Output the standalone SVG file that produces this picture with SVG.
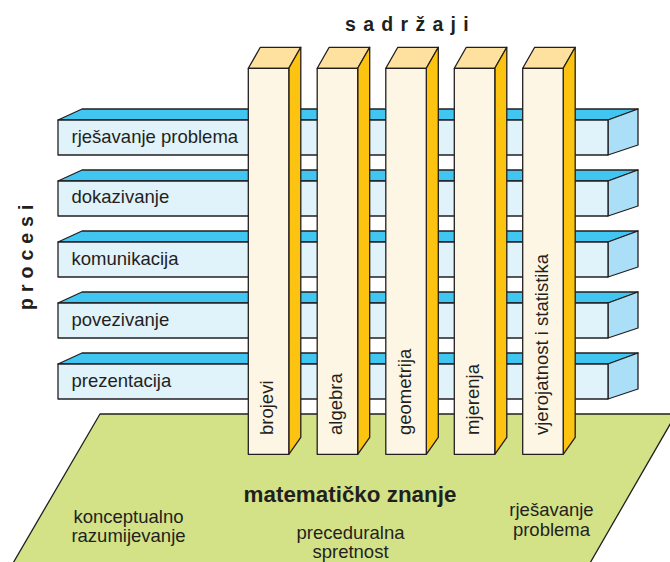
<svg xmlns="http://www.w3.org/2000/svg" width="670" height="562" viewBox="0 0 670 562">
  <style>
    .ln { stroke: #231f20; stroke-width: 1.3; stroke-linejoin: round; }
    .bar-front { fill: #e0f2fa; }
    .bar-top { fill: #41c6f2; }
    .bar-side { fill: #abdff7; }
    .pil-front { fill: #fef6e5; }
    .pil-top { fill: #fee09f; }
    .pil-side { fill: #fdc311; }
    .plane { fill: #d3e287; }
    .t { font-family: "Liberation Sans", Arial, Helvetica, sans-serif; fill: #231f20; }
    .lbl { font-size: 18.5px; }
    .head { font-size: 19.5px; font-weight: bold; }
  </style>
  <defs>
    <!-- horizontal process bar, origin at the top-left of its front face -->
    <g id="bar">
      <polygon class="bar-top ln" points="0,0 24,-11 580,-11 550,0"/>
      <polygon class="bar-side ln" points="550,0 580,-11 580,25 550,35"/>
      <rect class="bar-front ln" x="0" y="0" width="550" height="35"/>
    </g>
    <!-- vertical content pillar, origin at the top-left of its front face -->
    <g id="pillar">
      <polygon class="pil-top ln" points="0,0 12,-21 52.5,-21 40.5,0"/>
      <polygon class="pil-side ln" points="40.5,0 52.5,-21 52.5,369 40.5,386"/>
      <rect class="pil-front ln" x="0" y="0" width="40.5" height="386"/>
    </g>
  </defs>

  <rect width="670" height="562" fill="#ffffff"/>

  <!-- base plane -->
  <g id="plane">
    <polygon class="plane ln" points="100,414 676,414 586,570 9,570"/>
    <text class="t" x="350" y="501.7" font-size="22.4" font-weight="bold" text-anchor="middle">matematičko znanje</text>
    <text class="t lbl" x="128.5" y="522.7" text-anchor="middle">konceptualno</text>
    <text class="t lbl" x="128.5" y="541.7" text-anchor="middle">razumijevanje</text>
    <text class="t lbl" x="350.5" y="539.3" text-anchor="middle">preceduralna</text>
    <text class="t lbl" x="350.5" y="558.3" text-anchor="middle">spretnost</text>
    <text class="t lbl" x="551.5" y="516" text-anchor="middle">rješavanje</text>
    <text class="t lbl" x="551.5" y="535.6" text-anchor="middle">problema</text>
  </g>

  <!-- process bars -->
  <g id="bar-rjesavanje">
    <use href="#bar" x="58" y="120"/>
    <text class="t lbl" x="71.5" y="143">rješavanje problema</text>
  </g>
  <g id="bar-dokazivanje">
    <use href="#bar" x="58" y="181"/>
    <text class="t lbl" x="71.5" y="203.3">dokazivanje</text>
  </g>
  <g id="bar-komunikacija">
    <use href="#bar" x="58" y="242"/>
    <text class="t lbl" x="71.5" y="264.5">komunikacija</text>
  </g>
  <g id="bar-povezivanje">
    <use href="#bar" x="58" y="303"/>
    <text class="t lbl" x="71.5" y="325.5">povezivanje</text>
  </g>
  <g id="bar-prezentacija">
    <use href="#bar" x="58" y="364"/>
    <text class="t lbl" x="71.5" y="386.5">prezentacija</text>
  </g>

  <!-- content pillars -->
  <g id="pillar-brojevi">
    <use href="#pillar" x="248.3" y="68.3"/>
    <text class="t lbl" transform="translate(273.3 435) rotate(-90)">brojevi</text>
  </g>
  <g id="pillar-algebra">
    <use href="#pillar" x="317.2" y="68.3"/>
    <text class="t lbl" transform="translate(342.2 435) rotate(-90)">algebra</text>
  </g>
  <g id="pillar-geometrija">
    <use href="#pillar" x="385.8" y="68.3"/>
    <text class="t lbl" transform="translate(410.8 435) rotate(-90)">geometrija</text>
  </g>
  <g id="pillar-mjerenja">
    <use href="#pillar" x="454.3" y="68.3"/>
    <text class="t lbl" transform="translate(479.3 435) rotate(-90)">mjerenja</text>
  </g>
  <g id="pillar-vjerojatnost">
    <use href="#pillar" x="522.7" y="68.3"/>
    <text class="t lbl" transform="translate(547.7 435) rotate(-90)">vjerojatnost i statistika</text>
  </g>

  <!-- axis headings -->
  <g id="headings">
    <text class="t head" x="345" y="31" letter-spacing="7.3">sadržaji</text>
    <text class="t head" transform="translate(32.8 310) rotate(-90)" letter-spacing="6">procesi</text>
  </g>
</svg>
